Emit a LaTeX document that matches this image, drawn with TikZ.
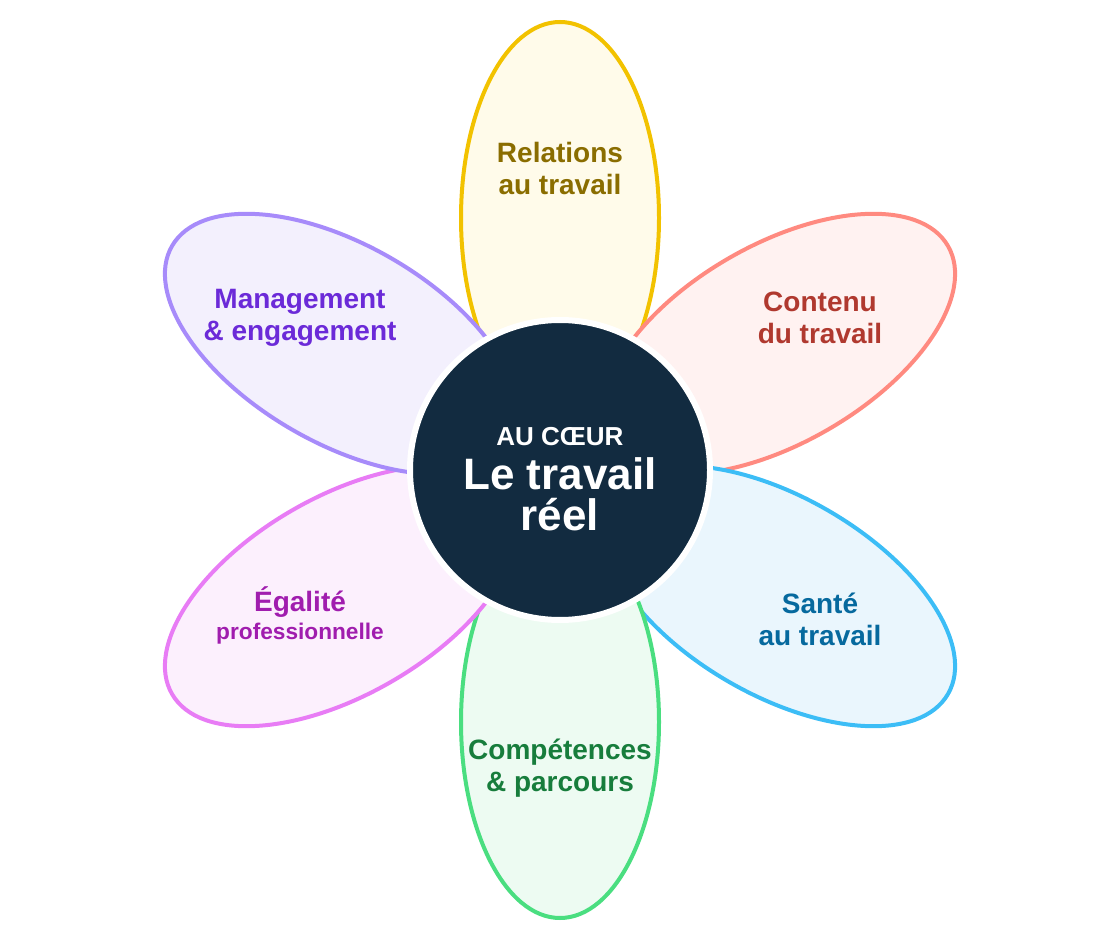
\documentclass[tikz,border=0pt]{standalone}
\usepackage{fontspec}
\setmainfont{Liberation Sans}
\definecolor{jauneB}{HTML}{F2C200}\definecolor{jauneF}{HTML}{FFFBEA}\definecolor{jauneT}{HTML}{8A6D00}
\definecolor{rougeB}{HTML}{FF8A80}\definecolor{rougeF}{HTML}{FFF2F1}\definecolor{rougeT}{HTML}{B0392F}
\definecolor{bleuB}{HTML}{3CBDF6}\definecolor{bleuF}{HTML}{EAF6FD}\definecolor{bleuT}{HTML}{06699E}
\definecolor{vertB}{HTML}{4ADE80}\definecolor{vertF}{HTML}{EDFBF2}\definecolor{vertT}{HTML}{177D3C}
\definecolor{roseB}{HTML}{E87CF5}\definecolor{roseF}{HTML}{FCF0FD}\definecolor{roseT}{HTML}{A01DAE}
\definecolor{violB}{HTML}{A78BFA}\definecolor{violF}{HTML}{F3F0FD}\definecolor{violT}{HTML}{6B2AD8}
\definecolor{coeur}{HTML}{122B40}
\tikzset{
  petale/.style={line width=3pt},
  titre/.style={font=\bfseries\fontsize{21}{24}\selectfont, align=center}
}
\begin{document}
\begin{tikzpicture}[x=0.75pt,y=0.75pt]
   \useasboundingbox (0,0) rectangle (1120,940);
   \coordinate (c) at (560,470);

   \begin{scope}[rotate around={0:(c)}]
   \draw[petale,draw=jauneB,fill=jauneF] (560,722) ellipse (99 and 196);
   \end{scope}
   \begin{scope}[rotate around={-60:(c)}]
   \draw[petale,draw=rougeB,fill=rougeF] (560,722) ellipse (99 and 196);
   \end{scope}
   \begin{scope}[rotate around={-120:(c)}]
   \draw[petale,draw=bleuB,fill=bleuF] (560,722) ellipse (99 and 196);
   \end{scope}
   \begin{scope}[rotate around={180:(c)}]
   \draw[petale,draw=vertB,fill=vertF] (560,722) ellipse (99 and 196);
   \end{scope}
   \begin{scope}[rotate around={120:(c)}]
   \draw[petale,draw=roseB,fill=roseF] (560,722) ellipse (99 and 196);
   \end{scope}
   \begin{scope}[rotate around={60:(c)}]
   \draw[petale,draw=violB,fill=violF] (560,722) ellipse (99 and 196);
   \end{scope}

   \node[titre,text=jauneT] (relations) at (560,772) {Relations\\au travail};
   \node[titre,text=rougeT] (contenu) at (820,622) {Contenu\\du travail};
   \node[titre,text=bleuT] (sante) at (820,321) {Santé\\au travail};
   \node[titre,text=vertT] (competences) at (560,172) {Compétences\\\& parcours};
   \node[titre,text=roseT] (egalite) at (300,338) {Égalité};
   \node[titre,text=roseT,font=\bfseries\fontsize{17}{20}\selectfont] (pro) at (300,306) {professionnelle};
   \node[titre,text=violT] (management) at (300,622) {Management\\\& engagement};

   \draw[line width=4.5pt,draw=white,fill=coeur] (c) circle (150);
   \node[text=white,font=\bfseries\fontsize{19.5}{22}\selectfont] (aucoeur) at (560,503) {AU CŒUR};
   \node[text=white,font=\bfseries\fontsize{33}{35}\selectfont] (travail) at (560,466) {Le travail};
   \node[text=white,font=\bfseries\fontsize{33}{35}\selectfont] (reel) at (560,425) {réel};
\end{tikzpicture}
\end{document}
